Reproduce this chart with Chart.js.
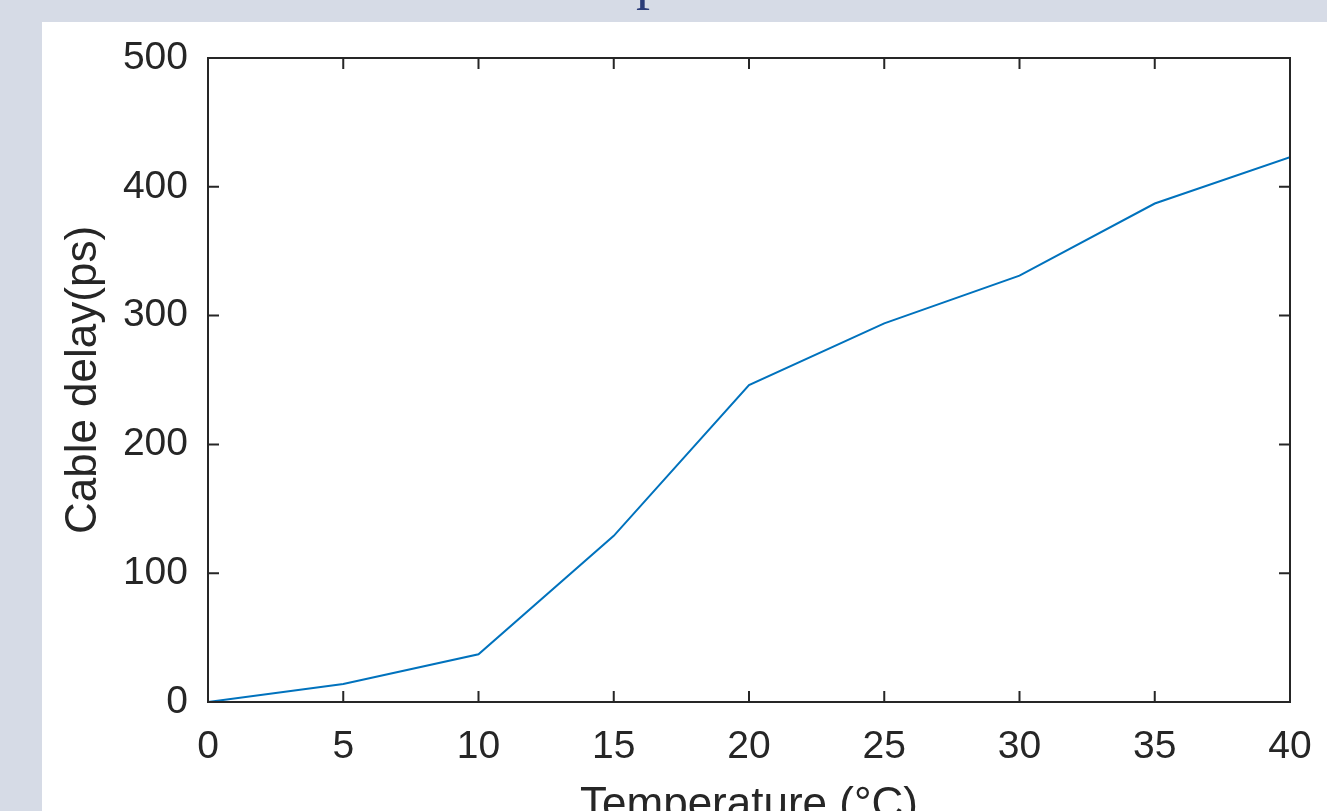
<!DOCTYPE html>
<html>
<head>
<meta charset="utf-8">
<script src="https://cdn.jsdelivr.net/npm/chart.js@4.4.0/dist/chart.umd.min.js"></script>
<style>
    html, body { margin: 0; padding: 0; width: 1327px; height: 811px; overflow: hidden; background: #d6dbe6; }
    #panel { position: absolute; left: 42px; top: 22px; width: 1285px; height: 789px; background: #ffffff; }
    #titleCut { position: absolute; left: 636px; top: -49px; font-family: "Liberation Serif", serif; font-size: 56px; line-height: 56px; color: #2b3c78; }
    #wrap { position: absolute; left: 0; top: 0; width: 1327px; height: 840px; }
</style>
</head>
<body>
<div id="panel"></div>
<div id="titleCut">p</div>
<div id="wrap"><canvas id="delayChart"></canvas></div>
<script>
    var temperaturas = [0, 5, 10, 15, 20, 25, 30, 35, 40];
    var retardo = [0, 14, 37, 129, 246, 294, 331, 387, 423];
    var ticksX = [0, 5, 10, 15, 20, 25, 30, 35, 40];
    var ticksY = [0, 100, 200, 300, 400, 500];

    var colorEjes = "#262626";
    var fuenteTicks = { family: "'Liberation Sans', Arial, sans-serif", size: 39 };
    var fuenteTitulo = { family: "'Liberation Sans', Arial, sans-serif", size: 44 };

    // marco cerrado con ticks hacia adentro, estilo matlab
    var marcoPlugin = {
        id: 'marco',
        afterDraw: function (chart) {
            var ctx = chart.ctx;
            var area = chart.chartArea;
            var sx = chart.scales.x;
            var sy = chart.scales.y;
            var largo = 11;
            ctx.save();
            ctx.strokeStyle = colorEjes;
            ctx.lineWidth = 2;
            ctx.strokeRect(area.left, area.top, area.right - area.left, area.bottom - area.top);
            ctx.beginPath();
            ticksX.forEach(function (v) {
                var px = sx.getPixelForValue(v);
                ctx.moveTo(px, area.bottom);
                ctx.lineTo(px, area.bottom - largo);
                ctx.moveTo(px, area.top);
                ctx.lineTo(px, area.top + largo);
            });
            ticksY.forEach(function (v) {
                var py = sy.getPixelForValue(v);
                ctx.moveTo(area.left, py);
                ctx.lineTo(area.left + largo, py);
                ctx.moveTo(area.right, py);
                ctx.lineTo(area.right - largo, py);
            });
            ctx.stroke();
            ctx.restore();
        }
    };

    var datos = temperaturas.map(function (t, i) {
        return { x: t, y: retardo[i] };
    });

    var grafico = new Chart(document.getElementById("delayChart"), {
        type: 'line',
        data: {
            datasets: [{
                data: datos,
                label: "Cable delay",
                borderColor: "#0072bd",
                borderWidth: 2,
                pointRadius: 0,
                fill: false,
                tension: 0
            }]
        },
        options: {
            responsive: true,
            maintainAspectRatio: false,
            animation: false,
            layout: { padding: { top: 58, right: 37, left: 0, bottom: 0 } },
            plugins: {
                legend: { display: false },
                tooltip: { enabled: false }
            },
            scales: {
                x: {
                    type: 'linear',
                    min: 0,
                    max: 40,
                    afterFit: function (scale) {
                        scale.height = 138;
                        scale.paddingLeft = 0;
                        scale.paddingRight = 0;
                    },
                    afterBuildTicks: function (scale) {
                        scale.ticks = ticksX.map(function (v) { return { value: v }; });
                    },
                    grid: { display: false, drawTicks: false },
                    border: { display: false },
                    ticks: { color: colorEjes, font: fuenteTicks, padding: 22, maxRotation: 0 },
                    title: {
                        display: true,
                        text: 'Temperature (°C)',
                        color: colorEjes,
                        font: fuenteTitulo,
                        padding: { top: 0, bottom: 8 }
                    }
                },
                y: {
                    type: 'linear',
                    min: 0,
                    max: 500,
                    afterFit: function (scale) { scale.width = 208; },
                    afterBuildTicks: function (scale) {
                        scale.ticks = ticksY.map(function (v) { return { value: v }; });
                    },
                    grid: { display: false, drawTicks: false },
                    border: { display: false },
                    ticks: { color: colorEjes, font: fuenteTicks, padding: 20 },
                    title: {
                        display: true,
                        text: 'Cable delay(ps)',
                        color: colorEjes,
                        font: fuenteTitulo,
                        padding: { top: 57, bottom: 0 }
                    }
                }
            }
        },
        plugins: [marcoPlugin]
    });
</script>
</body>
</html>
